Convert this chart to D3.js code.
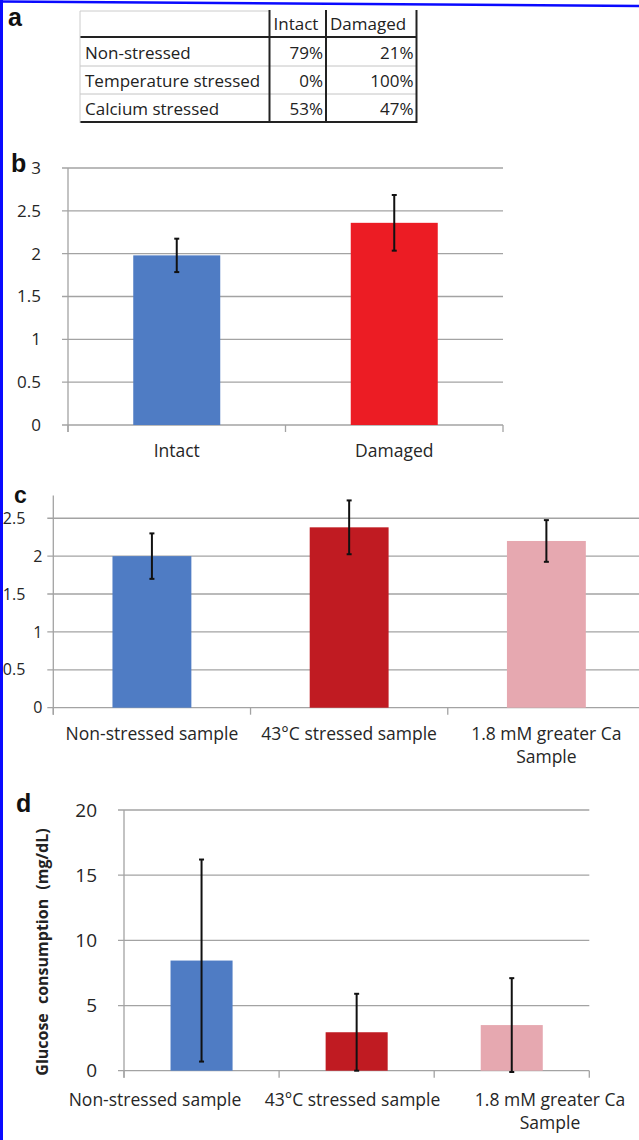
<!DOCTYPE html>
<html>
<head>
<meta charset="utf-8">
<script src="https://cdn.jsdelivr.net/npm/d3@7"></script>
<style>
  body { margin: 0; background: #fff; }
  svg { display: block; }
  text { font-family: "Open Sans", sans-serif; fill: #262626; }
  .panel-letter { font-family: "Liberation Sans", Arial, sans-serif; font-weight: bold; fill: #111; }
</style>
</head>
<body>
<div id="chart"></div>
<script>
// panel a: table
const tableCols = ["Intact", "Damaged"];
const tableRows = ["Non-stressed", "Temperature stressed", "Calcium stressed"];
const intactPct = [79, 0, 53];
const damagedPct = [21, 100, 47];

// panel b
const bCategories = ["Intact", "Damaged"];
const bValues = [1.98, 2.36];
const bErrors = [0.195, 0.325];
const bTicks = [0, 0.5, 1, 1.5, 2, 2.5, 3];

// panel c and d share categories
const sampleCategories = ["Non-stressed sample", "43°C stressed sample", "1.8 mM greater Ca Sample"];
const cValues = [2.0, 2.38, 2.2];
const cErrors = [0.3, 0.355, 0.275];
const cTicks = [0, 0.5, 1, 1.5, 2, 2.5];

const dValues = [8.45, 2.95, 3.5];
const dErrors = [7.75, 2.95, 3.6];
const dTicks = [0, 5, 10, 15, 20];
const dYLabel = "Glucose consumption (mg/dL)";

const bColors = ["#4f7cc4", "#ec1c24"];
const sampleColors = ["#4f7cc4", "#c01b22", "#e6a8b0"];

const W = 639, H = 1140;
const gridColor = "#a3a3a3";

const svg = d3.select("#chart").append("svg")
  .attr("width", W)
  .attr("height", H);

// blue frame (left and top)
svg.append("line").attr("x1", 1.5).attr("x2", 1.5).attr("y1", 0).attr("y2", H)
  .attr("stroke", "#0a0aff").attr("stroke-width", 3);
svg.append("line").attr("x1", 0).attr("x2", W).attr("y1", 1.5).attr("y2", 6)
  .attr("stroke", "#0a0aff").attr("stroke-width", 2.5);

// ---------- panel a ----------
svg.append("text").attr("class", "panel-letter").attr("x", 8).attr("y", 26)
  .style("font-size", "25px").text("a");

const colEdges = [80, 269.5, 326, 416.5];
const rowEdges = [11, 37, 66, 94, 122];
const table = svg.append("g");

const cells = tableRows.map((r, i) => [r, intactPct[i] + "%", damagedPct[i] + "%"]);

// row separators
rowEdges.forEach((y, i) => {
  const strong = i === 1 || i === rowEdges.length - 1;
  if (i === 0) {
    table.append("line").attr("x1", colEdges[0]).attr("x2", colEdges[1])
      .attr("y1", y).attr("y2", y).attr("stroke", "#ccc").attr("stroke-width", 1);
    return;
  }
  table.append("line").attr("x1", colEdges[0]).attr("x2", colEdges[3])
    .attr("y1", y).attr("y2", y)
    .attr("stroke", strong ? "#222" : "#c4c4c4")
    .attr("stroke-width", strong ? 2 : 1);
});
// column separators
colEdges.forEach((x, i) => {
  table.append("line").attr("x1", x).attr("x2", x)
    .attr("y1", i === 0 ? rowEdges[0] : rowEdges[0] - 1).attr("y2", rowEdges[4] + 1)
    .attr("stroke", i === 0 ? "#ccc" : "#222")
    .attr("stroke-width", i === 0 ? 1 : 2);
});

table.selectAll(".hdr").data(tableCols).enter().append("text")
  .attr("x", (d, i) => colEdges[i + 1] + 4)
  .attr("y", rowEdges[1] - 7)
  .style("font-size", "17px").style("fill", "#222")
  .text(d => d);

cells.forEach((row, i) => {
  const base = rowEdges[i + 2] - 7;
  table.append("text").attr("x", colEdges[0] + 5).attr("y", base)
    .style("font-size", "17px").style("fill", "#222").text(row[0]);
  table.append("text").attr("x", colEdges[2] - 3).attr("y", base)
    .attr("text-anchor", "end").style("font-size", "17px").style("fill", "#222").text(row[1]);
  table.append("text").attr("x", colEdges[3] - 3).attr("y", base)
    .attr("text-anchor", "end").style("font-size", "17px").style("fill", "#222").text(row[2]);
});

// ---------- bar panels ----------
function wrap(text, width, lineH) {
  text.each(function() {
    const t = d3.select(this);
    const words = t.text().split(" ");
    const x = t.attr("x");
    t.text(null);
    let line = [];
    let tspan = t.append("tspan").attr("x", x);
    words.forEach(w => {
      line.push(w);
      tspan.text(line.join(" "));
      if (tspan.node().getComputedTextLength() > width && line.length > 1) {
        line.pop();
        tspan.text(line.join(" "));
        line = [w];
        tspan = t.append("tspan").attr("x", x).attr("dy", lineH).text(w);
      }
    });
  });
}

function barPanel(p) {
  const g = svg.append("g");

  const x = d3.scaleBand()
    .domain(p.categories)
    .range([p.left, p.right])
    .paddingInner(0.6)
    .paddingOuter(0.3);

  const y = d3.scaleLinear()
    .domain(p.domain)
    .range([p.bottom, p.top]);

  // gridlines
  g.selectAll(".grid").data(p.ticks).enter().append("line")
    .attr("x1", p.left - 6).attr("x2", p.right)
    .attr("y1", d => y(d)).attr("y2", d => y(d))
    .attr("stroke", gridColor).attr("stroke-width", 1.3);

  // vertical axis line
  g.append("line")
    .attr("x1", p.left).attr("x2", p.left)
    .attr("y1", y(p.domain[1])).attr("y2", y(0) + 7)
    .attr("stroke", gridColor).attr("stroke-width", 1.3);

  // category boundary ticks
  const bounds = d3.range(p.categories.length + 1).map(i => p.left + i * x.step());
  g.selectAll(".ctick").data(bounds).enter().append("line")
    .attr("x1", d => d).attr("x2", d => d)
    .attr("y1", y(0)).attr("y2", y(0) + 7)
    .attr("stroke", gridColor).attr("stroke-width", 1.3);

  // y tick labels
  const yAxis = g.append("g")
    .attr("transform", `translate(${p.left},0)`)
    .call(d3.axisLeft(y).tickValues(p.ticks).tickSize(0).tickPadding(p.labelPad)
      .tickFormat(d3.format("~g")));
  yAxis.select(".domain").remove();
  yAxis.selectAll("text")
    .style("font-family", '"Open Sans", sans-serif')
    .style("font-size", p.tickFont + "px")
    .style("fill", "#262626");
  if (p.decimalShift) {
    yAxis.selectAll("text").filter(d => d % 1 !== 0)
      .attr("x", -(p.labelPad + p.decimalShift));
  }

  // bars
  g.selectAll(".bar").data(p.values).enter().append("rect")
    .attr("x", (d, i) => x(p.categories[i]))
    .attr("y", d => y(d))
    .attr("width", x.bandwidth())
    .attr("height", d => y(0) - y(d))
    .attr("fill", (d, i) => p.colors[i]);

  // error bars
  const cx = i => x(p.categories[i]) + x.bandwidth() / 2;
  const eb = g.selectAll(".err").data(p.values).enter().append("g");
  eb.append("line")
    .attr("x1", (d, i) => cx(i)).attr("x2", (d, i) => cx(i))
    .attr("y1", (d, i) => y(d - p.errors[i])).attr("y2", (d, i) => y(d + p.errors[i]))
    .attr("stroke", "#111").attr("stroke-width", 2);
  [-1, 1].forEach(s => {
    eb.append("line")
      .attr("x1", (d, i) => cx(i) - 2.5).attr("x2", (d, i) => cx(i) + 2.5)
      .attr("y1", (d, i) => y(d + s * p.errors[i])).attr("y2", (d, i) => y(d + s * p.errors[i]))
      .attr("stroke", "#111").attr("stroke-width", 2);
  });

  // category labels (own point scale where the labels were spread out)
  const lx = p.labelRange
    ? d3.scalePoint().domain(p.categories).range(p.labelRange)
    : (d => x(d) + x.bandwidth() / 2);
  g.selectAll(".xlab").data(p.categories).enter().append("text")
    .attr("x", d => lx(d))
    .attr("y", y(0) + p.labelOffset)
    .attr("text-anchor", "middle")
    .style("font-size", p.labelFont + "px")
    .text(d => d)
    .call(wrap, 190, 23);

  return g;
}

// panel b
svg.append("text").attr("class", "panel-letter").attr("x", 11).attr("y", 172)
  .style("font-size", "25px").text("b");
barPanel({
  categories: bCategories, values: bValues, errors: bErrors, colors: bColors,
  ticks: bTicks, domain: [0, 3],
  left: 68, right: 503, top: 168, bottom: 425,
  labelPad: 27, tickFont: 17, labelFont: 17.5, labelOffset: 32
});

// panel c
svg.append("text").attr("class", "panel-letter").attr("x", 14).attr("y", 503)
  .style("font-size", "23px").text("c");
barPanel({
  categories: sampleCategories, values: cValues, errors: cErrors, colors: sampleColors,
  ticks: cTicks, domain: [0, 2.8],
  left: 53.3, right: 645, top: 495.5, bottom: 707.7,
  labelPad: 11, decimalShift: 17, tickFont: 16, labelFont: 17.5, labelOffset: 32
});

// panel d
svg.append("text").attr("class", "panel-letter").attr("x", 16).attr("y", 812)
  .style("font-size", "25px").text("d");
barPanel({
  categories: sampleCategories, values: dValues, errors: dErrors, colors: sampleColors,
  ticks: dTicks, domain: [0, 20],
  left: 124, right: 589.3, top: 810, bottom: 1070.7,
  labelPad: 27, tickFont: 19, labelFont: 17.5, labelOffset: 35,
  labelRange: [155, 550]
});

svg.append("text")
  .attr("transform", "translate(48,952) rotate(-90)")
  .attr("text-anchor", "middle")
  .style("font-size", "16px")
  .style("font-weight", "bold")
  .style("word-spacing", "5px")
  .style("fill", "#222")
  .text(dYLabel);
</script>
</body>
</html>
